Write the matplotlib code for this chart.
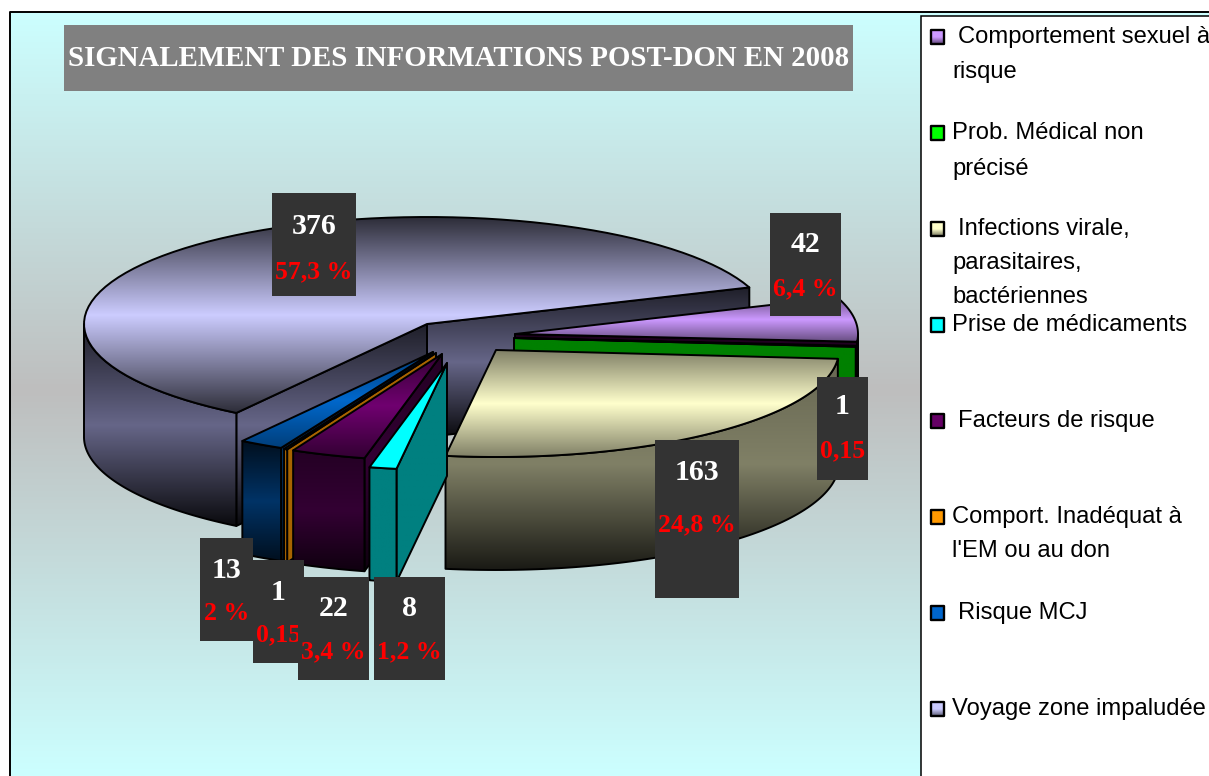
import numpy as np
import matplotlib
matplotlib.use("Agg")
import matplotlib.pyplot as plt
from matplotlib.patches import Polygon, Rectangle
from matplotlib.colors import to_rgb

# chart data, in legend order
legend_labels = [
    ["Comportement sexuel à", "risque"],
    ["Prob. Médical non", "précisé"],
    ["Infections virale,", "parasitaires,", "bactériennes"],
    ["Prise de médicaments"],
    ["Facteurs de risque"],
    ["Comport. Inadéquat à", "l'EM ou au don"],
    ["Risque MCJ"],
    ["Voyage zone impaludée"],
]
values = [42, 1, 163, 8, 22, 1, 13, 376]
percents = ["6,4 %", "0,15", "24,8 %", "1,2 %", "3,4 %", "0,15", "2 %", "57,3 %"]
title = "SIGNALEMENT DES INFORMATIONS POST-DON EN 2008"

# styles
top_colors = ["#CC99FF", "#00A000", "#FFFFCC", "#00FFFF", "#700070", "#A86400", "#0068CC", "#CCCCFF"]
wall_colors = ["#440044", "#008000", "#808066", "#008080", "#330033", "#A86400", "#003366", "#666688"]
swatch_colors = ["#CC99FF", "#00FF00", "#FFFFCC", "#00FFFF", "#660066", "#FF9900", "#0066CC", "#CCCCFF"]
top_shade = [0.5, 1, 0.5, 1, 0.45, 1, 0.6, 0.22]
wall_shade = [(0.4, 1, 0.4), (1, 1, 1), (0.8, 1, 0.2), (1, 1, 1), (0.7, 1, 0.3), (1, 1, 1), (0.3, 1, 0.3), (0.3, 1, 0.1)]

# layout, in pixels of the 1209x776 picture
RX, RY, DEPTH = 343, 107, 113
START_ANGLE = 380  # first slice ends here, then going clockwise
tips = [(515, 334), (514, 338), (496, 350), (447, 363), (442, 354), (436, 353), (433, 352), (427, 324)]
draw_order = [7, 0, 1, 2, 6, 5, 4, 3]
boxes = [(770, 213, 71, 103), (817, 377, 51, 103), (655, 440, 84, 158), (374, 577, 71, 103),
         (298, 577, 71, 103), (253, 560, 51, 103), (200, 538, 53, 103), (272, 193, 84, 103)]
num_y = [245, 407, 473, 609, 609, 593, 570, 227]
pct_y = [289, 451, 525, 652, 652, 635, 614, 272]
legend_y = [37, 133, 229, 325, 421, 517, 613, 709]
legend_x = [958, 952, 958, 952, 958, 952, 958, 952]
line_gap = [35, 36, 34, 0, 0, 34, 0, 0]

SERIF = "Liberation Serif"
SANS = "Liberation Sans"

fig = plt.figure(figsize=(12.09, 7.76), dpi=100, facecolor="white")
ax = fig.add_axes([0, 0, 1, 1])
ax.axis("off")


def vertical_gradient(color, stops):
    c = np.array(to_rgb(color))
    pos = np.linspace(0, 1, 256)
    f = np.interp(pos, [0, 0.5, 1], stops)
    return (f[:, None] * c)[:, None, :]


def shaded_poly(pts, color, stops, z, lw=1.4):
    pts = np.asarray(pts)
    x0, x1 = pts[:, 0].min(), pts[:, 0].max()
    y0, y1 = pts[:, 1].min(), pts[:, 1].max()
    outline = Polygon(pts, closed=True, fc="none", ec="black", lw=lw, joinstyle="round", zorder=z + 0.5)
    ax.add_patch(outline)
    im = ax.imshow(vertical_gradient(color, stops), extent=(x0, x1, y1, y0), aspect="auto",
                   interpolation="bilinear", zorder=z)
    im.set_clip_path(outline)


def rim(tip, t0, t1):
    t = np.radians(np.linspace(t0, t1, 80))
    return np.column_stack([tip[0] + RX * np.cos(t), tip[1] - RY * np.sin(t)])


def down(pts):
    return np.asarray(pts) + [0, DEPTH]


def cut_wall(tip, t):
    edge = rim(tip, t, t)[:1]
    top = np.vstack([[tip], edge])
    return np.vstack([top, down(top)[::-1]])


# background gradient: cyan, grey in the middle, cyan again
bg_pos = np.linspace(12, 776, 400)
bg_stops = np.array([to_rgb("#CCFFFF"), to_rgb("#BEBEBE"), to_rgb("#CCFFFF")])
bg = np.column_stack([np.interp(bg_pos, [12, 390, 776], bg_stops[:, i]) for i in range(3)])[:, None, :]
ax.imshow(bg, extent=(10, 1209, 776, 12), aspect="auto", zorder=0)
ax.plot([10, 10, 1209], [776, 12, 12], color="black", lw=1.4, zorder=1)

# legend panel
ax.add_patch(Rectangle((921, 16), 290, 762, fc="white", ec="black", lw=1.1, zorder=1))

# slices: angles come from the values
total = sum(values)
angles = []
current = START_ANGLE
for v in values:
    angles.append((current - v / total * 360, current))
    current -= v / total * 360

z = 2
for i in draw_order:
    tip, (t0, t1) = tips[i], angles[i]
    # cut faces turned to the viewer
    if np.cos(np.radians(t0)) > 0:
        shaded_poly(cut_wall(tip, t0), wall_colors[i], wall_shade[i], z)
        z += 1
    if np.cos(np.radians(t1)) < 0:
        shaded_poly(cut_wall(tip, t1), wall_colors[i], wall_shade[i], z)
        z += 1
    # outer wall, front half only
    a, b = max(t0, 180), min(t1, 360)
    if a < b:
        r = rim(tip, a, b)
        shaded_poly(np.vstack([r, down(r)[::-1]]), wall_colors[i], wall_shade[i], z)
        z += 1
    top_pts = np.vstack([[tip], rim(tip, t0, t1)])
    shaded_poly(top_pts, top_colors[i], (top_shade[i], 1, top_shade[i]), z)
    z += 1

# value boxes
z += 1
for i in [6, 5, 4, 3, 0, 1, 2, 7]:
    x, y, w, h = boxes[i]
    ax.add_patch(Rectangle((x, y), w, h, fc="#333333", ec="none", zorder=z))
    cx = x + w / 2
    ax.text(cx, num_y[i], str(values[i]), color="white", family=SERIF, weight="bold", fontsize=21.5,
            ha="center", va="center", zorder=z + 1)
    ax.text(cx, pct_y[i], percents[i], color="red", family=SERIF, weight="bold", fontsize=18.5,
            ha="center", va="center", zorder=z + 1)
    z += 2

# title
ax.add_patch(Rectangle((64, 25), 789, 66, fc="#808080", ec="none", zorder=z))
ax.text(458.5, 59, title, color="white", family=SERIF, weight="bold", fontsize=20.8,
        ha="center", va="center", zorder=z + 1)

# legend entries
z += 2
for i, lines in enumerate(legend_labels):
    shade = 0.45 if i in (0, 2, 7) else 1
    y = legend_y[i]
    swatch = [(931, y - 7), (944, y - 7), (944, y + 7), (931, y + 7)]
    shaded_poly(swatch, swatch_colors[i], (1, 1, shade), z, lw=1.7)
    ax.text(legend_x[i], y, lines[0], family=SANS, fontsize=17.1, color="black", ha="left", va="center",
            zorder=z + 1)
    for k, line in enumerate(lines[1:]):
        ax.text(952, y + (k + 1) * line_gap[i], line, family=SANS, fontsize=17.1, color="black", ha="left",
                va="center", zorder=z + 1)

ax.set_xlim(0, 1209)
ax.set_ylim(776, 0)
fig.savefig("out.png", dpi=100)
